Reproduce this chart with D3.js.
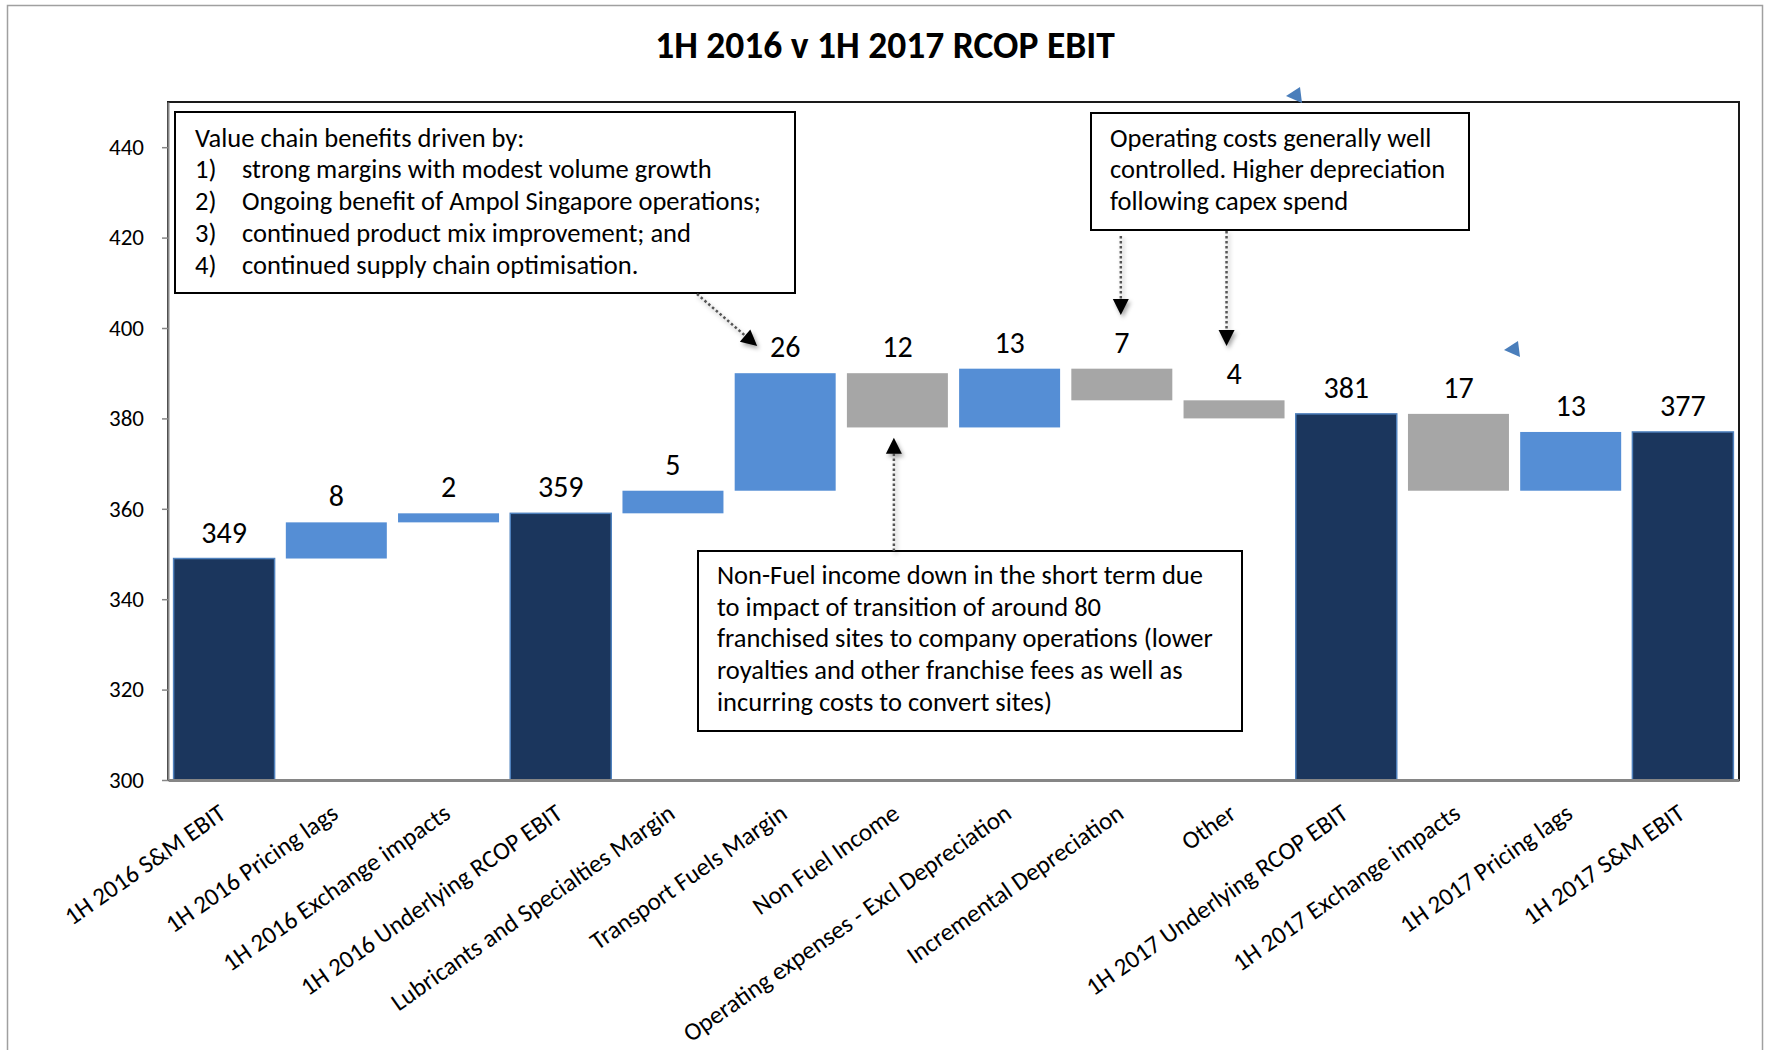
<!DOCTYPE html>
<html>
<head>
<meta charset="utf-8">
<script src="https://cdn.jsdelivr.net/npm/d3@7"></script>
<style>
  html, body { margin: 0; padding: 0; background: #fff; }
  svg { display: block; }
  text { font-family: Carlito, Calibri, Lato, sans-serif; }
</style>
</head>
<body>
<svg id="chart" width="1765" height="1050"></svg>
<script>
// Waterfall of 1H 2016 -> 1H 2017 RCOP EBIT ($m)
const categories = [
  "1H 2016 S&M EBIT",
  "1H 2016 Pricing lags",
  "1H 2016 Exchange impacts",
  "1H 2016 Underlying RCOP EBIT",
  "Lubricants and Specialties Margin",
  "Transport Fuels Margin",
  "Non Fuel Income",
  "Operating expenses - Excl Depreciation",
  "Incremental Depreciation",
  "Other",
  "1H 2017 Underlying RCOP EBIT",
  "1H 2017 Exchange impacts",
  "1H 2017 Pricing lags",
  "1H 2017 S&M EBIT"
];
const values = [349, 8, 2, 359, 5, 26, 12, 13, 7, 4, 381, 17, 13, 377];
const kinds = ["total", "up", "up", "total", "up", "up", "down", "up", "down", "down", "total", "down", "up", "total"];
const yTicks = [300, 320, 340, 360, 380, 400, 420, 440];
const yDomain = [300, 450];
const title = "1H 2016 v 1H 2017 RCOP EBIT";

const noteValueChain = [
  ["", "Value chain benefits driven by:"],
  ["1)", "strong margins with modest volume growth"],
  ["2)", "Ongoing benefit of Ampol Singapore operations;"],
  ["3)", "continued product mix improvement; and"],
  ["4)", "continued supply chain optimisation."]
];
const noteOpex = [
  "Operating costs generally well",
  "controlled. Higher depreciation",
  "following capex spend"
];
const noteNonFuel = [
  "Non-Fuel income down in the short term due",
  "to impact of transition of around 80",
  "franchised sites to company operations (lower",
  "royalties and other franchise fees as well as",
  "incurring costs to convert sites)"
];

const colors = { total: "#1B365D", up: "#558ED5", down: "#A6A6A6" };

const svg = d3.select("#chart");
const W = 1765, H = 1050;
const plot = { left: 168, right: 1739, top: 102, bottom: 780 };

// drop shadow used by the callout arrows
const defs = svg.append("defs");
const shadow = defs.append("filter").attr("id", "arrowShadow")
  .attr("x", "-50%").attr("y", "-50%").attr("width", "200%").attr("height", "200%");
shadow.append("feDropShadow").attr("dx", 2).attr("dy", 3).attr("stdDeviation", 2)
  .attr("flood-color", "#000").attr("flood-opacity", 0.35);

svg.append("rect").attr("width", W).attr("height", H).attr("fill", "#fff");
// chart frame
svg.append("rect").attr("x", 7.5).attr("y", 5.5).attr("width", 1755).attr("height", 1100)
  .attr("fill", "none").attr("stroke", "#A0A0A0").attr("stroke-width", 1.5);

const x = d3.scaleBand().domain(categories).range([plot.left, plot.right])
  .paddingInner(0.1).paddingOuter(0.05);
const y = d3.scaleLinear().domain(yDomain).range([plot.bottom, plot.top]);

// running totals -> floating segments
let running = 0;
const bars = categories.map((c, i) => {
  const v = values[i], k = kinds[i];
  let lo, hi;
  if (k === "total") { lo = yDomain[0]; hi = v; running = v; }
  else if (k === "up") { lo = running; hi = running + v; running = hi; }
  else { hi = running; lo = running - v; running = lo; }
  return { cat: c, value: v, kind: k, lo, hi };
});

// plot area border
svg.append("rect").attr("x", plot.left).attr("y", plot.top)
  .attr("width", plot.right - plot.left).attr("height", plot.bottom - plot.top)
  .attr("fill", "none").attr("stroke", "#1a1a1a").attr("stroke-width", 2);

// title
svg.append("text").attr("x", 885).attr("y", 58).attr("text-anchor", "middle")
  .attr("font-size", 37.5).attr("font-weight", "bold").attr("fill", "#000").text(title);

// bars
svg.append("g").selectAll("rect").data(bars).join("rect")
  .attr("x", d => x(d.cat))
  .attr("y", d => y(d.hi))
  .attr("width", x.bandwidth())
  .attr("height", d => y(d.lo) - y(d.hi))
  .attr("fill", d => colors[d.kind])
  .attr("stroke", d => d.kind === "total" ? "#4F81BD" : "none")
  .attr("stroke-width", 1.5);

// value labels
svg.append("g").selectAll("text").data(bars).join("text")
  .attr("x", d => x(d.cat) + x.bandwidth() / 2)
  .attr("y", d => y(d.hi) - 16)
  .attr("text-anchor", "middle")
  .attr("font-size", 30).attr("fill", "#000")
  .text(d => d.value);

// y axis
const yAxis = svg.append("g").attr("transform", `translate(${plot.left},0)`)
  .call(d3.axisLeft(y).tickValues(yTicks).tickSize(6).tickPadding(18).tickSizeOuter(0));
yAxis.select(".domain").attr("stroke", "#868686").attr("stroke-width", 2);
yAxis.selectAll(".tick line").attr("stroke", "#868686").attr("stroke-width", 1.5);
yAxis.selectAll(".tick text").attr("font-size", 23).attr("fill", "#000")
  .attr("font-family", "Carlito, Calibri, Lato, sans-serif");

// x axis
const xAxis = svg.append("g").attr("transform", `translate(0,${plot.bottom})`)
  .call(d3.axisBottom(x).tickSize(0).tickSizeOuter(0).tickFormat(""));
xAxis.select(".domain").attr("stroke", "#868686").attr("stroke-width", 3);
svg.append("g").selectAll("text").data(categories).join("text")
  .attr("transform", d => `translate(${x(d) + x.bandwidth() / 2 + 3.5},${plot.bottom + 37}) rotate(-35)`)
  .attr("text-anchor", "end")
  .attr("font-size", 25).attr("fill", "#000")
  .text(d => d);

// callout boxes
function box(x0, y0, w, h) {
  svg.append("rect").attr("x", x0).attr("y", y0).attr("width", w).attr("height", h)
    .attr("fill", "#fff").attr("stroke", "#000").attr("stroke-width", 2);
}
const lineH = 31.7;
const noteSize = 26.5;

box(175, 112, 620, 181);
const g1 = svg.append("g").attr("font-size", noteSize).attr("fill", "#000");
noteValueChain.forEach((row, i) => {
  if (row[0]) g1.append("text").attr("x", 195).attr("y", 146.7 + i * lineH).text(row[0]);
  g1.append("text").attr("x", row[0] ? 242 : 195).attr("y", 146.7 + i * lineH).text(row[1]);
});

box(1091, 113, 378, 117);
const g2 = svg.append("g").attr("font-size", noteSize).attr("fill", "#000");
noteOpex.forEach((t, i) => g2.append("text").attr("x", 1110).attr("y", 146.7 + i * lineH).text(t));

box(698, 551, 544, 180);
const g3 = svg.append("g").attr("font-size", noteSize).attr("fill", "#000");
noteNonFuel.forEach((t, i) => g3.append("text").attr("x", 717).attr("y", 584 + i * lineH).text(t));

// dotted callout arrows
function arrow(x1, y1, x2, y2) {
  const g = svg.append("g").attr("filter", "url(#arrowShadow)");
  const dx = x2 - x1, dy = y2 - y1, len = Math.hypot(dx, dy);
  const ux = dx / len, uy = dy / len, head = 16, half = 8;
  const bx = x2 - ux * head, by = y2 - uy * head;
  g.append("line").attr("x1", x1).attr("y1", y1).attr("x2", bx).attr("y2", by)
    .attr("stroke", "#555").attr("stroke-width", 2.5).attr("stroke-dasharray", "2.5,2.5");
  g.append("path")
    .attr("d", `M${x2},${y2}L${bx - uy * half},${by + ux * half}L${bx + uy * half},${by - ux * half}Z`)
    .attr("fill", "#000");
}
const cx = c => x(c) + x.bandwidth() / 2;
arrow(697, 294, cx("Transport Fuels Margin") - 28, y(396));
arrow(cx("Incremental Depreciation") - 1, 236, cx("Incremental Depreciation") - 1, y(402.9));
arrow(cx("Other") - 7.5, 231, cx("Other") - 7.5, y(396));
arrow(cx("Non Fuel Income") - 3.5, 551, cx("Non Fuel Income") - 3.5, y(375.7));

// small blue pointer marks
function pointer(px, py) {
  svg.append("path")
    .attr("d", `M${px + 14},${py - 9}L${px},${py}L${px + 16},${py + 7}Z`)
    .attr("fill", "#4A7EBB");
}
pointer(1286, 96);
pointer(1504, 350);
</script>
</body>
</html>
